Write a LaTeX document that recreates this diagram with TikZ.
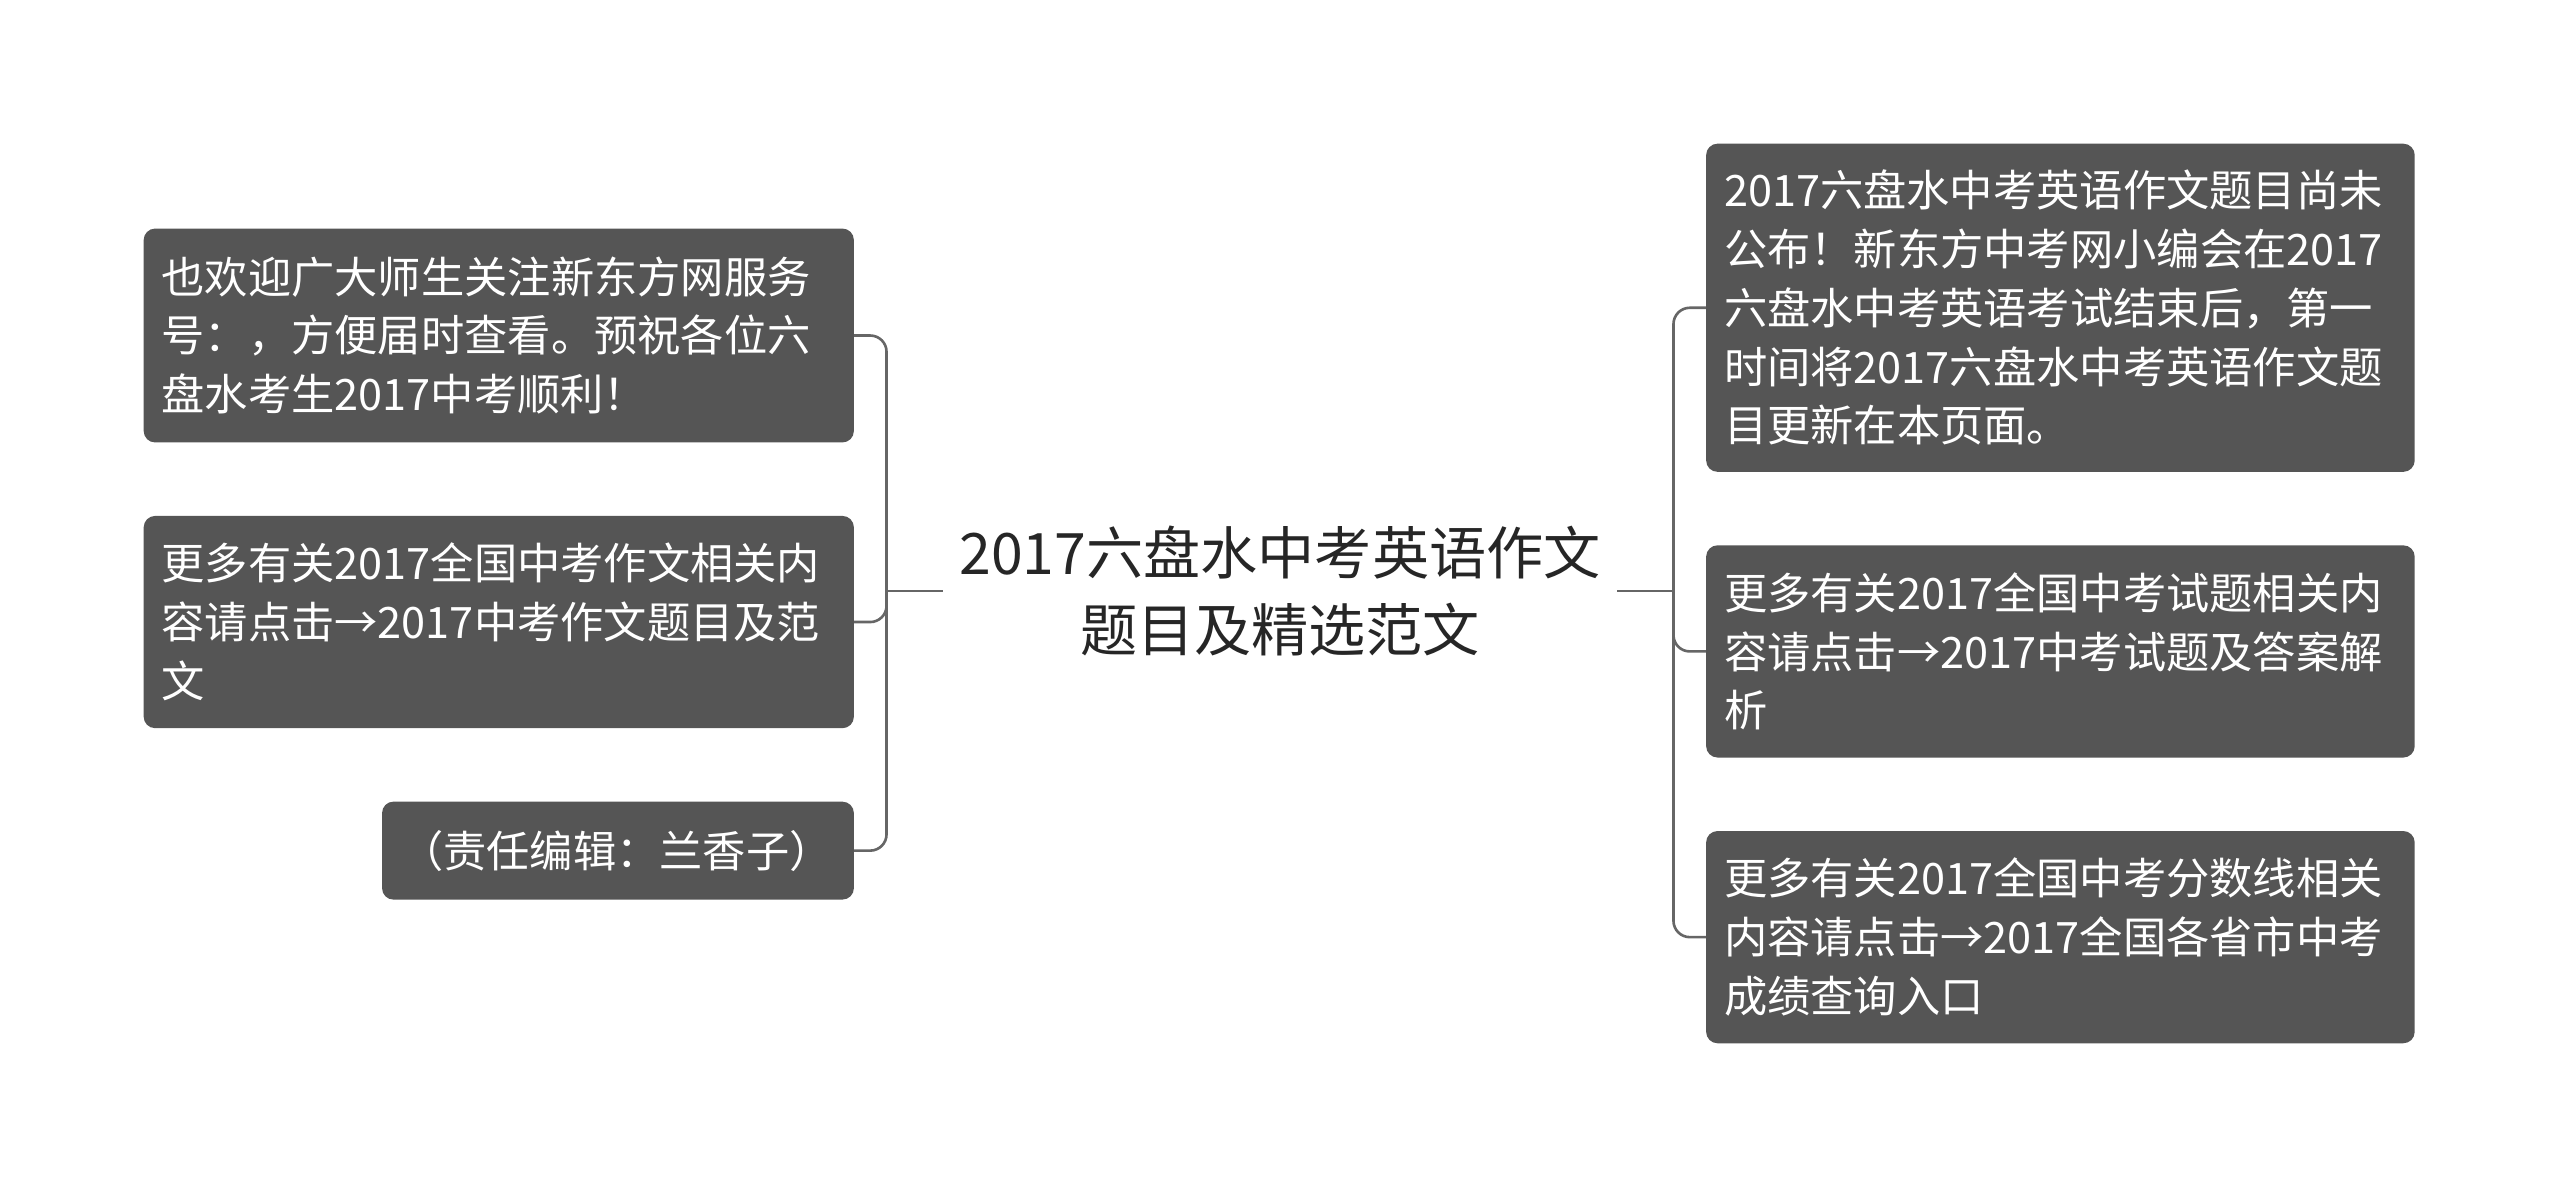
\documentclass[tikz,border=0pt]{standalone}
\usepackage{fontspec}
\setmainfont{Noto Sans CJK SC}
\begin{document}
\begin{tikzpicture}[x=1pt,y=-1pt,
  box/.style={fill=boxgray,rounded corners=7pt,text=white,align=left,inner xsep=11pt,inner ysep=0pt,font=\fontsize{26.5}{36}\selectfont},
  conn/.style={draw=linegray,line width=1.6pt,rounded corners=10pt}]
\definecolor{boxgray}{HTML}{555555}
\definecolor{linegray}{HTML}{666666}
\useasboundingbox (0,0) rectangle (1568,728);
\node[box,minimum width=435pt,minimum height=131pt,text width=413pt] (l1) at (305.5,205.5) {也欢迎广大师生关注新东方网服务\\号：，方便届时查看。预祝各位六\\盘水考生2017中考顺利！};
\node[box,minimum width=435pt,minimum height=130pt,text width=413pt] (l2) at (305.5,381) {更多有关2017全国中考作文相关内\\容请点击→2017中考作文题目及范\\文};
\node[box,minimum width=289pt,minimum height=60pt,text width=267pt] (l3) at (378.5,521) {（责任编辑：兰香子）};
\node[box,minimum width=434pt,minimum height=201pt,text width=412pt] (r1) at (1262,188.5) {2017六盘水中考英语作文题目尚未\\公布！新东方中考网小编会在2017\\六盘水中考英语考试结束后，第一\\时间将2017六盘水中考英语作文题\\目更新在本页面。};
\node[box,minimum width=434pt,minimum height=130pt,text width=412pt] (r2) at (1262,399) {更多有关2017全国中考试题相关内\\容请点击→2017中考试题及答案解\\析};
\node[box,minimum width=434pt,minimum height=130pt,text width=412pt] (r3) at (1262,574) {更多有关2017全国中考分数线相关\\内容请点击→2017全国各省市中考\\成绩查询入口};
\node[align=center,font=\fontsize{35}{47}\selectfont,text=black!85,inner xsep=10pt] (c) at (784,362) {2017六盘水中考英语作文\\题目及精选范文};
\coordinate (lj) at (543,362);
\coordinate (rj) at (1025,362);
\draw[conn] (c.west) -- (lj);
\draw[conn] (l1.east) -| (lj) |- (l3.east);
\draw[conn] (lj) |- (l2.east);
\draw[conn] (c.east) -- (rj);
\draw[conn] (r1.west) -| (rj) |- (r3.west);
\draw[conn] (rj) |- (r2.west);
\end{tikzpicture}
\end{document}
